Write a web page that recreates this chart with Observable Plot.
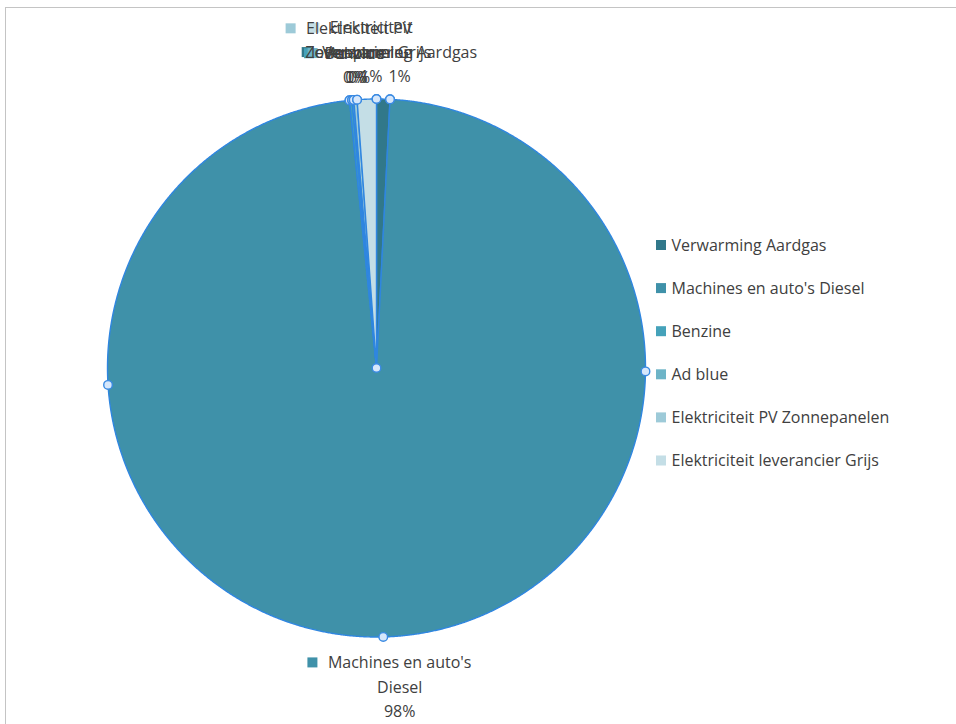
<!DOCTYPE html>
<html>
<head>
<meta charset="utf-8">
<script src="https://cdn.jsdelivr.net/npm/d3@7"></script>
<script src="https://cdn.jsdelivr.net/npm/@observablehq/plot@0.6"></script>
<style>
  html, body { margin: 0; padding: 0; background: #fff; overflow: hidden; }
  #wrap { position: relative; width: 956px; height: 724px; }
  #frame { position: absolute; left: 5px; top: 7px; width: 1000px; height: 800px; border: 1px solid #c4c4c4; box-sizing: border-box; }
  #chart { position: absolute; left: 0; top: 0; }
</style>
</head>
<body>
<div id="wrap"><div id="frame"></div><div id="chart"></div></div>
<script>
// ---- data ----
const categories = ["Verwarming Aardgas", "Machines en auto's Diesel", "Benzine", "Ad blue", "Elektriciteit PV Zonnepanelen", "Elektriciteit leverancier Grijs"];
const shares = [0.8, 97.6, 0.15, 0.1, 0.2, 1.15];
const labelNames = ["Verwarming Aardgas", "Machines en auto's\nDiesel", "Benzine", "Ad blue", "Elektriciteit PV\nZonnepanelen", "Elektriciteit\nleverancier Grijs"];
const colors = ["#31788a", "#3f91a9", "#45a2ba", "#6db4c7", "#9dcad8", "#c4dee6"];

// ---- layout ----
const W = 956, H = 724;
const cx = 376, cy = 367.5, R = 269;
const fontFamily = "'Open Sans', 'Noto Sans', sans-serif";
const fs = 16;
const lh = 24.5;
const textColor = "#404040";
const outline = "#2f86e0";

const total = d3.sum(shares);
const px = a => cx + R * Math.sin(a);
const py = a => cy - R * Math.cos(a);

const slices = [];
let acc = 0;
shares.forEach((v, i) => {
  const a0 = acc / total * 2 * Math.PI;
  acc += v;
  const a1 = acc / total * 2 * Math.PI;
  slices.push({i, name: categories[i], value: v, a0, a1});
});

// polygon points for slices
const polyPts = [];
slices.forEach(s => {
  polyPts.push({k: s.i, x: cx, y: cy});
  const n = Math.max(2, Math.ceil((s.a1 - s.a0) / 0.004));
  for (let j = 0; j <= n; j++) {
    const a = s.a0 + (s.a1 - s.a0) * j / n;
    polyPts.push({k: s.i, x: px(a), y: py(a)});
  }
});

// selection handles
const handles = [{x: cx, y: cy}];
slices.forEach(s => {
  const ts = (s.a1 - s.a0) > Math.PI / 6 ? [0, 0.25, 0.5, 0.75, 1] : [0, 1];
  ts.forEach(t => {
    const a = s.a0 + (s.a1 - s.a0) * t;
    handles.push({x: px(a), y: py(a)});
  });
});

// text measure
const ctx = document.createElement("canvas").getContext("2d");
ctx.font = `${fs}px ${fontFamily}`;
const tw = t => ctx.measureText(t).width;

// data labels
const labelLines = [], labelKeys = [];
slices.forEach(s => {
  const mid = (s.a0 + s.a1) / 2;
  const sn = Math.sin(mid), cs = Math.cos(mid);
  const pct = Math.round(s.value / total * 100) + "%";
  const lines = labelNames[s.i].split("\n").concat([pct]);
  const lx = cx + sn * (R + 16) + (sn > 0 ? 16 : 5);
  const edgeY = cy - cs * R;
  let firstY;
  if (cs > 0) firstY = edgeY - 22 - (lines.length - 1) * lh;
  else firstY = edgeY + 26;
  lines.forEach((t, j) => labelLines.push({x: lx, y: firstY + j * lh, text: t}));
  const w0 = tw(lines[0]);
  labelKeys.push({i: s.i, x: lx - w0 / 2 - 15, y: firstY});
});

// legend
const legendTop = 245, legendGap = 43.1;
const legendRows = categories.map((c, i) => ({i, name: c, y: legendTop + i * legendGap}));

const chart = Plot.plot({
  width: W, height: H,
  margin: 0,
  x: {domain: [0, W], range: [0, W], axis: null},
  y: {domain: [0, H], range: [0, H], axis: null},
  style: {fontFamily, fontSize: fs + "px", background: "transparent", overflow: "visible"},
  marks: [
    Plot.line(polyPts, {x: "x", y: "y", z: "k", curve: "linear-closed",
      fill: d => colors[d.k], stroke: outline, strokeWidth: 1.4, strokeLinejoin: "round"}),
    Plot.dot(handles, {x: "x", y: "y", r: 4.3, fill: "#d6e7fb", stroke: "#3a8ae2", strokeWidth: 1.4}),
    // data labels
    Plot.rect(labelKeys, {x1: d => d.x - 5, x2: d => d.x + 5, y1: d => d.y - 5, y2: d => d.y + 5, fill: d => colors[d.i]}),
    Plot.text(labelLines, {x: "x", y: "y", text: "text", fill: textColor, textAnchor: "middle", lineAnchor: "middle", fontSize: fs}),
    // legend
    Plot.rect(legendRows, {x1: 656, x2: 666, y1: d => d.y - 5, y2: d => d.y + 5, fill: d => colors[d.i]}),
    Plot.text(legendRows, {x: 671, y: "y", text: "name", fill: textColor, textAnchor: "start", lineAnchor: "middle", fontSize: fs})
  ]
});
document.getElementById("chart").appendChild(chart);
</script>
</body>
</html>
